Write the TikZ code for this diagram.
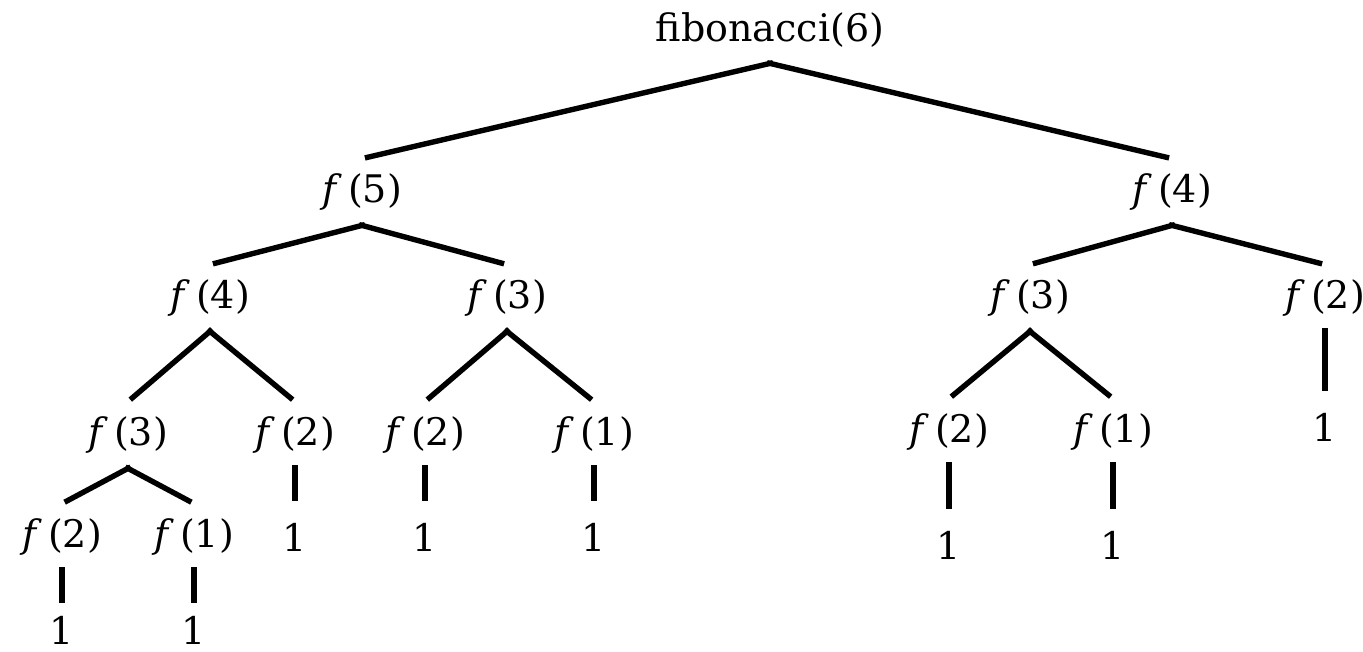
\documentclass[tikz,border=0pt]{standalone}
\usepackage{fontspec}
\setmainfont{DejaVu Serif}
\begin{document}
\begin{tikzpicture}[x=0.5pt,y=-0.5pt,
  call/.style={inner sep=0pt,minimum height=33pt,font=\fontsize{19}{21}\selectfont},
  lowleaf/.style={call,minimum height=24pt},
  link/.style={line width=2.7pt,shorten <=-1.5pt,shorten >=1.5pt}]
\newcommand{\fcall}[1]{\textit{f}\,(#1)}
\useasboundingbox (0,0) rectangle (1363,652);
% nodes of the call tree
\node[call] (root) at (770,30) {fibonacci(6)};
\node[call] (a5) at (362,192) {\fcall{5}};
\node[call] (b4) at (1172,192) {\fcall{4}};
\node[call] (a4) at (210,298) {\fcall{4}};
\node[call] (a3) at (507,298) {\fcall{3}};
\node[call] (b3) at (1030,298) {\fcall{3}};
\node[call] (b2) at (1325,298) {\fcall{2}};
\node[call] (c3) at (128,435) {\fcall{3}};
\node[call] (c2) at (295,435) {\fcall{2}};
\node[call] (d2) at (425,435) {\fcall{2}};
\node[call] (d1) at (594,435) {\fcall{1}};
\node[call] (e2) at (949,432) {\fcall{2}};
\node[call] (e1) at (1113,432) {\fcall{1}};
\node[call] (b2v) at (1325,427) {1};
\node[call] (g2) at (62,537) {\fcall{2}};
\node[call] (g1) at (194,537) {\fcall{1}};
\node[call] (c2v) at (295,537) {1};
\node[call] (d2v) at (425,537) {1};
\node[call] (d1v) at (594,537) {1};
\node[call] (e2v) at (949,545) {1};
\node[call] (e1v) at (1113,545) {1};
\node[lowleaf] (g2v) at (62,630) {1};
\node[lowleaf] (g1v) at (194,630) {1};
% branches
\draw[link] (root.south) -- (a5.north);
\draw[link] (root.south) -- (b4.north);
\draw[link] (a5.south) -- (a4.north);
\draw[link] (a5.south) -- (a3.north);
\draw[link] (b4.south) -- (b3.north);
\draw[link] (b4.south) -- (b2.north);
\draw[link] (a4.south) -- (c3.north);
\draw[link] (a4.south) -- (c2.north);
\draw[link] (a3.south) -- (d2.north);
\draw[link] (a3.south) -- (d1.north);
\draw[link] (b3.south) -- (e2.north);
\draw[link] (b3.south) -- (e1.north);
\draw[link] (b2.south) -- (b2v.north);
\draw[link] (c3.south) -- (g2.north);
\draw[link] (c3.south) -- (g1.north);
\draw[link] (c2.south) -- (c2v.north);
\draw[link] (d2.south) -- (d2v.north);
\draw[link] (d1.south) -- (d1v.north);
\draw[link] (e2.south) -- (e2v.north);
\draw[link] (e1.south) -- (e1v.north);
\draw[link] (g2.south) -- (g2v.north);
\draw[link] (g1.south) -- (g1v.north);
\end{tikzpicture}
\end{document}
